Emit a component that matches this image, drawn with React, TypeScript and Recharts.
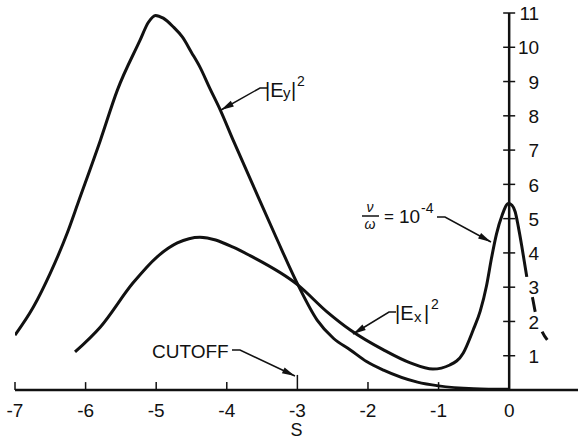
import React from "react";
import { LineChart, Line, XAxis, YAxis, ReferenceLine } from "recharts";

const FONT = "'Liberation Sans', Arial, sans-serif";

// |Ey|^2 curve
const EY_S = [-7.0, -6.74, -6.5, -6.26, -6.1, -5.79, -5.55, -5.23, -5.11, -5.01, -4.9, -4.76, -4.63, -4.5, -4.38, -4.24, -4.09, -3.91, -3.64, -3.3, -2.99, -2.72, -2.49, -2.25, -2.02, -1.78, -1.3, -1.0, -0.5, 0];
const EY_VAL = [1.6, 2.42, 3.41, 4.58, 5.5, 7.29, 8.75, 10.2, 10.73, 10.93, 10.85, 10.6, 10.3, 9.85, 9.42, 8.8, 8.16, 7.29, 6.03, 4.45, 3.06, 2.04, 1.51, 1.17, 0.83, 0.58, 0.23, 0.12, 0.04, 0.02];

// |Ex|^2 curve (nu/omega = 1e-4)
const EX_S = [-6.15, -5.79, -5.33, -4.99, -4.7, -4.38, -3.91, -3.67, -2.99, -2.58, -2.25, -1.78, -1.4, -1.08, -0.84, -0.65, -0.51, -0.41, -0.32, -0.25, -0.18, -0.1, -0.01, 0.04, 0.085, 0.13, 0.18, 0.25];
const EX_VAL = [1.11, 1.84, 3.12, 3.88, 4.29, 4.46, 4.17, 3.92, 3.06, 2.28, 1.75, 1.17, 0.79, 0.61, 0.73, 1.08, 1.75, 2.3, 3.05, 3.85, 4.55, 5.1, 5.44, 5.39, 5.2, 4.76, 4.18, 3.3];

// dashed continuation of |Ex|^2
const EX_TAIL_S = [0.25, 0.33, 0.37, 0.47, 0.54];
const EX_TAIL_VAL = [3.3, 2.7, 2.27, 1.69, 1.46];

const X_TICKS = [-7, -6, -5, -4, -3, -2, -1, 0];
const Y_TICKS = [1, 2, 3, 4, 5, 6, 7, 8, 9, 10, 11];
const CUTOFF_S = -3;

const zip = (xs: number[], ys: number[]) => xs.map((s, i) => ({ s, v: ys[i] }));

const eyData = zip(EY_S, EY_VAL);
const exData = zip(EX_S, EX_VAL);
const exTailData = zip(EX_TAIL_S, EX_TAIL_VAL);

const INK = "#111";

const YTickLabel = (props: any) => {
  const vb = props.viewBox || {};
  const x = (vb.x ?? 0) + (vb.width ?? 0) + 24;
  const y = (vb.y ?? 0) + (vb.height ?? 0) / 2;
  return (
    <text x={x} y={y} dy="0.38em" textAnchor="end" fontSize={19} fontFamily={FONT} fill={INK}>
      {props.tickText}
    </text>
  );
};

// little arrow for the annotations
const Arrow = ({ pts }: { pts: number[][] }) => {
  const [x1, y1] = pts[pts.length - 2];
  const [x2, y2] = pts[pts.length - 1];
  const a = Math.atan2(y2 - y1, x2 - x1);
  const L = 13;
  const W = 3.2;
  const bx = x2 - L * Math.cos(a);
  const by = y2 - L * Math.sin(a);
  const head = [
    [x2, y2],
    [bx + W * Math.sin(a), by - W * Math.cos(a)],
    [bx - W * Math.sin(a), by + W * Math.cos(a)],
  ];
  return (
    <g>
      <polyline points={pts.map((p) => p.join(",")).join(" ")} fill="none" stroke={INK} strokeWidth={1.5} />
      <polygon points={head.map((p) => p.join(",")).join(" ")} fill={INK} />
    </g>
  );
};

const Annotations = () => (
  <svg width={578} height={436} style={{ position: "absolute", left: 0, top: 0, pointerEvents: "none" }}>
    <g fontFamily={FONT} fill={INK}>
      {/* |Ey|^2 */}
      <text x={265} y={97} fontSize={20}>|E</text>
      <text x={283} y={98} fontSize={15}>y</text>
      <text x={291} y={97} fontSize={20}>|</text>
      <text x={297} y={86} fontSize={14}>2</text>

      {/* |Ex|^2 */}
      <text x={395} y={320} fontSize={20}>|E</text>
      <text x={414} y={322} fontSize={15}>x</text>
      <text x={424} y={320} fontSize={20}>|</text>
      <text x={431} y={309} fontSize={14}>2</text>

      {/* nu / omega = 10^-4 */}
      <text x={370} y={212} fontSize={14} fontStyle="italic" textAnchor="middle">ν</text>
      <line x1={362} y1={216} x2={379} y2={216} stroke={INK} strokeWidth={1.5} />
      <text x={370} y={229} fontSize={14} fontStyle="italic" textAnchor="middle">ω</text>
      <text x={384} y={222} fontSize={17}>=</text>
      <text x={399} y={223} fontSize={19}>10</text>
      <text x={421} y={213} fontSize={14}>-4</text>

      {/* cutoff */}
      <text x={152} y={358} fontSize={19}>CUTOFF</text>
    </g>
    <Arrow pts={[[268, 88], [260, 88], [221, 110]]} />
    <Arrow pts={[[396, 312], [389, 312], [353, 334]]} />
    <Arrow pts={[[437, 217], [445, 217], [491, 242]]} />
    <Arrow pts={[[232, 350], [240, 350], [295, 376]]} />
  </svg>
);

export default function App() {
  return (
    <div style={{ position: "absolute", left: 0, top: 0, width: 578, height: 436, background: "#fff" }}>
      <LineChart width={578} height={436} margin={{ top: 13, right: 0, left: 15, bottom: 0 }}>
        <XAxis
          type="number"
          dataKey="s"
          domain={[-7, 0.975]}
          allowDataOverflow
          ticks={X_TICKS}
          interval={0}
          height={46}
          tickLine={false}
          tickSize={0}
          tickMargin={14}
          axisLine={{ stroke: INK, strokeWidth: 2.5 }}
          tick={{ fontSize: 19, fill: INK, fontFamily: FONT }}
          label={{ value: "S", position: "insideBottom", offset: 0, fontSize: 18, fill: INK, fontFamily: FONT }}
        />
        <YAxis type="number" dataKey="v" domain={[0, 11]} allowDataOverflow hide />

        {/* vertical axis at S = 0 */}
        <ReferenceLine segment={[{ x: 0, y: 0 }, { x: 0, y: 11 }]} stroke={INK} strokeWidth={2.5} />
        {Y_TICKS.map((k) => (
          <ReferenceLine
            key={"y" + k}
            segment={[{ x: -0.085, y: k }, { x: 0.085, y: k }]}
            stroke={INK}
            strokeWidth={1.5}
            label={<YTickLabel tickText={String(k)} />}
          />
        ))}
        {X_TICKS.filter((k) => k !== 0).map((k) => (
          <ReferenceLine
            key={"x" + k}
            segment={[{ x: k, y: 0 }, { x: k, y: k === CUTOFF_S ? 0.44 : 0.23 }]}
            stroke={INK}
            strokeWidth={1.5}
          />
        ))}

        <Line data={eyData} dataKey="v" type="monotone" stroke={INK} strokeWidth={3} dot={false} isAnimationActive={false} />
        <Line data={exData} dataKey="v" type="monotone" stroke={INK} strokeWidth={3} dot={false} isAnimationActive={false} />
        <Line
          data={exTailData}
          dataKey="v"
          type="monotone"
          stroke={INK}
          strokeWidth={3}
          strokeDasharray="0 21 15 21 10 200"
          dot={false}
          isAnimationActive={false}
        />
      </LineChart>
      <Annotations />
    </div>
  );
}
